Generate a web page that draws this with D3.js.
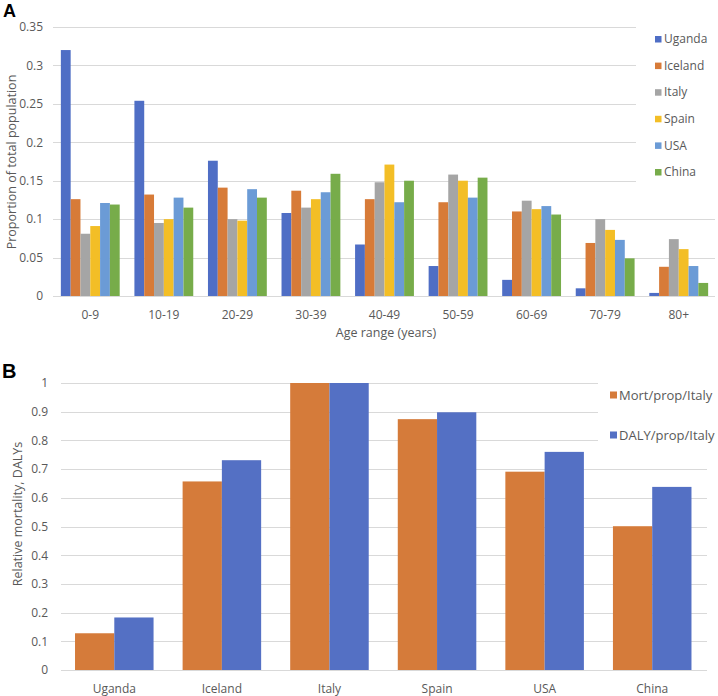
<!DOCTYPE html>
<html>
<head>
<meta charset="utf-8">
<script src="https://cdn.jsdelivr.net/npm/d3@7"></script>
<style>
  body { margin: 0; background: #fff; }
  text { font-family: "Open Sans", sans-serif; }
</style>
</head>
<body>
<script>
const W = 718;
const H = 696;
const TEXT_COLOR = "#595959";
const GRID_COLOR = "#d9d9d9";

// Panel A data
const ageGroups = ["0-9", "10-19", "20-29", "30-39", "40-49", "50-59", "60-69", "70-79", "80+"];
const countriesA = ["Uganda", "Iceland", "Italy", "Spain", "USA", "China"];
const uganda  = [0.320, 0.254, 0.176, 0.108, 0.067, 0.039, 0.021, 0.010, 0.004];
const iceland = [0.126, 0.132, 0.141, 0.137, 0.126, 0.122, 0.110, 0.069, 0.038];
const italy   = [0.081, 0.095, 0.100, 0.115, 0.148, 0.158, 0.124, 0.100, 0.074];
const spain   = [0.091, 0.100, 0.098, 0.126, 0.171, 0.150, 0.113, 0.086, 0.061];
const usa     = [0.121, 0.128, 0.139, 0.135, 0.122, 0.128, 0.117, 0.073, 0.039];
const china   = [0.119, 0.115, 0.128, 0.159, 0.150, 0.154, 0.106, 0.049, 0.017];
const yTicksA = [0, 0.05, 0.1, 0.15, 0.2, 0.25, 0.3, 0.35];
const colorsA = ["#4f6ec5", "#d77b38", "#a5a5a5", "#f3be26", "#6b9bd6", "#77ac4a"];

// Panel B data
const countriesB = ["Uganda", "Iceland", "Italy", "Spain", "USA", "China"];
const seriesB = ["Mort/prop/Italy", "DALY/prop/Italy"];
const mortProp = [0.128, 0.657, 1.0, 0.874, 0.691, 0.501];
const dalyProp = [0.183, 0.731, 1.0, 0.898, 0.760, 0.638];
const yTicksB = [0, 0.1, 0.2, 0.3, 0.4, 0.5, 0.6, 0.7, 0.8, 0.9, 1];
const colorsB = ["#d57b3a", "#5470c4"];

const svg = d3.select("body").append("svg")
  .attr("width", W)
  .attr("height", H);

drawPanelA();
drawPanelB();

function drawGrid(g, y, ticks, x0, x1) {
  g.selectAll("line.grid")
    .data(ticks)
    .enter()
    .append("line")
    .attr("class", "grid")
    .attr("x1", x0)
    .attr("x2", x1)
    .attr("y1", d => Math.round(y(d)) + 0.5)
    .attr("y2", d => Math.round(y(d)) + 0.5)
    .attr("stroke", GRID_COLOR)
    .attr("stroke-width", 1);
}

function drawPanelA() {
  const g = svg.append("g").attr("class", "panelA");
  const x = d3.scaleBand().domain(ageGroups).range([53.5, 715.5]).paddingInner(0.2).paddingOuter(0.1);
  const xs = d3.scaleBand().domain(countriesA).range([0, x.bandwidth()]);
  const y = d3.scaleLinear().domain([0, 0.35]).range([296, 27]);
  const color = d3.scaleOrdinal().domain(countriesA).range(colorsA);
  const values = [uganda, iceland, italy, spain, usa, china];

  drawGrid(g, y, yTicksA, 53, 715);

  const fmt = d => (d === 0 ? "0" : String(+d.toFixed(2)));
  const yAxis = g.append("g")
    .attr("transform", "translate(43,0)")
    .call(d3.axisLeft(y).tickValues(yTicksA).tickFormat(fmt).tickSize(0).tickPadding(0));
  yAxis.select(".domain").remove();
  yAxis.selectAll("text")
    .attr("fill", TEXT_COLOR)
    .style("font-size", "12px")
    .style("font-family", "Open Sans, sans-serif");

  const groups = g.selectAll("g.age")
    .data(ageGroups)
    .enter()
    .append("g")
    .attr("class", "age")
    .attr("transform", d => "translate(" + x(d) + ",0)");

  groups.selectAll("rect")
    .data((d, i) => countriesA.map((c, k) => ({ c, v: values[k][i] })))
    .enter()
    .append("rect")
    .attr("x", d => xs(d.c))
    .attr("width", xs.bandwidth())
    .attr("y", d => y(d.v))
    .attr("height", d => y(0) - y(d.v))
    .attr("fill", d => color(d.c));

  const xAxis = g.append("g")
    .attr("transform", "translate(0,310)")
    .call(d3.axisBottom(x).tickSize(0).tickPadding(0));
  xAxis.select(".domain").remove();
  xAxis.selectAll("text")
    .attr("fill", TEXT_COLOR)
    .style("font-size", "12px")
    .style("font-family", "Open Sans, sans-serif");

  g.append("text")
    .attr("x", 386)
    .attr("y", 337)
    .attr("text-anchor", "middle")
    .attr("fill", TEXT_COLOR)
    .style("font-size", "12.5px")
    .text("Age range (years)");

  g.append("text")
    .attr("transform", "translate(16,162) rotate(-90)")
    .attr("text-anchor", "middle")
    .attr("fill", TEXT_COLOR)
    .style("font-size", "12.5px")
    .text("Proportion of total population");

  // legend with white background over the grid
  g.append("rect")
    .attr("x", 636).attr("y", 22).attr("width", 80).attr("height", 166)
    .attr("fill", "#fff");
  const leg = g.selectAll("g.leg")
    .data(countriesA)
    .enter()
    .append("g")
    .attr("class", "leg")
    .attr("transform", (d, i) => "translate(655," + (39 + i * 26.6) + ")");
  leg.append("rect")
    .attr("x", 0).attr("y", -3).attr("width", 6.5).attr("height", 6.5)
    .attr("fill", d => color(d));
  leg.append("text")
    .attr("x", 9)
    .attr("y", 0)
    .attr("dy", "0.35em")
    .attr("fill", TEXT_COLOR)
    .style("font-size", "12px")
    .text(d => d);

  g.append("text")
    .attr("x", 3)
    .attr("y", 17)
    .attr("fill", "#000")
    .style("font-family", "Liberation Sans, Arial, sans-serif")
    .style("font-weight", "bold")
    .style("font-size", "18px")
    .text("A");
}

function drawPanelB() {
  const g = svg.append("g").attr("class", "panelB");
  const x = d3.scaleBand().domain(countriesB).range([60.5, 706]).paddingInner(0.27).paddingOuter(0.135);
  const xs = d3.scaleBand().domain(seriesB).range([0, x.bandwidth()]);
  const y = d3.scaleLinear().domain([0, 1]).range([670, 383]);
  const color = d3.scaleOrdinal().domain(seriesB).range(colorsB);
  const values = [mortProp, dalyProp];

  drawGrid(g, y, yTicksB, 61, 707);

  const fmt = d => (d === 0 ? "0" : String(+d.toFixed(1)));
  const yAxis = g.append("g")
    .attr("transform", "translate(48,0)")
    .call(d3.axisLeft(y).tickValues(yTicksB).tickFormat(fmt).tickSize(0).tickPadding(0));
  yAxis.select(".domain").remove();
  yAxis.selectAll("text")
    .attr("fill", TEXT_COLOR)
    .style("font-size", "12px")
    .style("font-family", "Open Sans, sans-serif");

  const groups = g.selectAll("g.country")
    .data(countriesB)
    .enter()
    .append("g")
    .attr("class", "country")
    .attr("transform", d => "translate(" + x(d) + ",0)");

  groups.selectAll("rect")
    .data((d, i) => seriesB.map((s, k) => ({ s, v: values[k][i] })))
    .enter()
    .append("rect")
    .attr("x", d => xs(d.s))
    .attr("width", xs.bandwidth())
    .attr("y", d => y(d.v))
    .attr("height", d => y(0) - y(d.v))
    .attr("fill", d => color(d.s));

  const xAxis = g.append("g")
    .attr("transform", "translate(0,684)")
    .call(d3.axisBottom(x).tickSize(0).tickPadding(0));
  xAxis.select(".domain").remove();
  xAxis.selectAll("text")
    .attr("fill", TEXT_COLOR)
    .style("font-size", "12px")
    .style("font-family", "Open Sans, sans-serif");

  g.append("text")
    .attr("transform", "translate(22,514) rotate(-90)")
    .attr("text-anchor", "middle")
    .attr("fill", TEXT_COLOR)
    .style("font-size", "12.5px")
    .text("Relative mortality, DALYs");

  g.append("rect")
    .attr("x", 598).attr("y", 374).attr("width", 118).attr("height", 82)
    .attr("fill", "#fff");
  const leg = g.selectAll("g.leg")
    .data(seriesB)
    .enter()
    .append("g")
    .attr("class", "leg")
    .attr("transform", (d, i) => "translate(610," + (395 + i * 40) + ")");
  leg.append("rect")
    .attr("x", 0).attr("y", -3.5).attr("width", 7).attr("height", 7)
    .attr("fill", d => color(d));
  leg.append("text")
    .attr("x", 9)
    .attr("y", 0)
    .attr("dy", "0.35em")
    .attr("fill", TEXT_COLOR)
    .style("font-size", "13px")
    .text(d => d);

  g.append("text")
    .attr("x", 2)
    .attr("y", 378)
    .attr("fill", "#000")
    .style("font-family", "Liberation Sans, Arial, sans-serif")
    .style("font-weight", "bold")
    .style("font-size", "20px")
    .text("B");
}
</script>
</body>
</html>
